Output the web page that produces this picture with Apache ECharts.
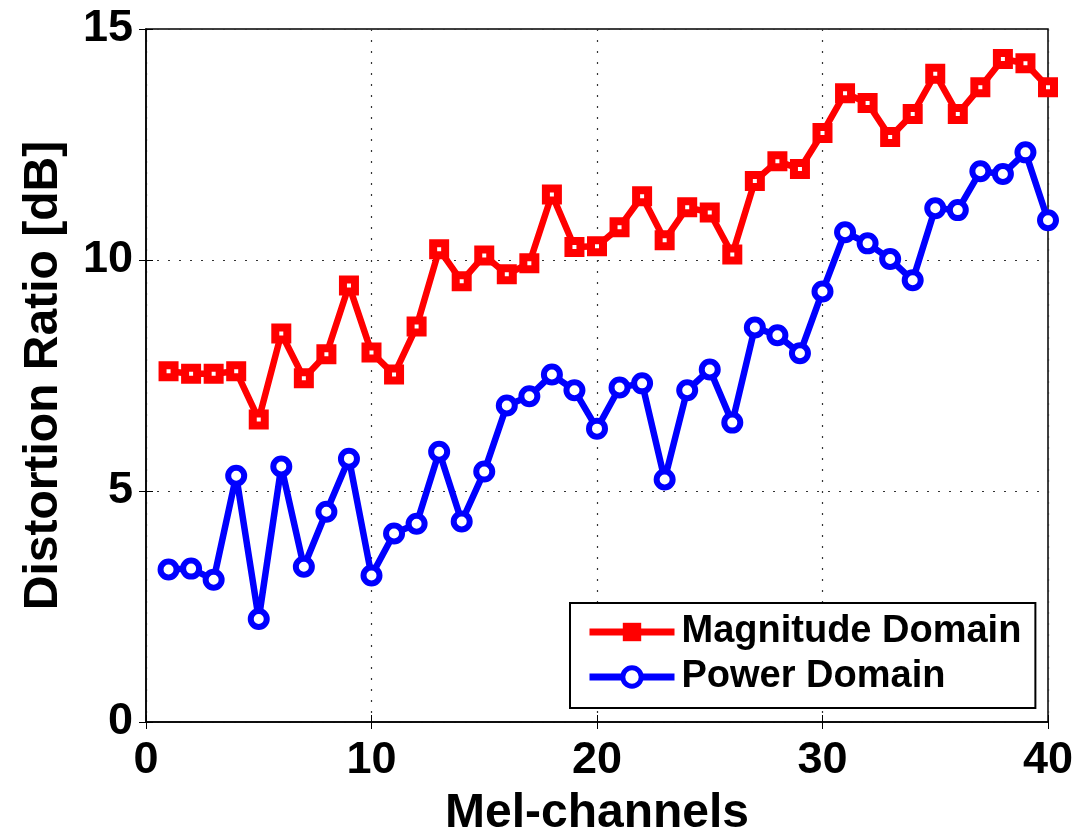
<!DOCTYPE html>
<html>
<head>
<meta charset="utf-8">
<script src="https://cdn.jsdelivr.net/npm/echarts@6/dist/echarts.min.js"></script>
<style>
  html, body { margin: 0; padding: 0; background: #fff; }
  #main { width: 1082px; height: 833px; }
</style>
</head>
<body>
<div id="main"></div>
<script>
// mel channel index 1..40
var channels = [];
for (var i = 1; i <= 40; i++) channels.push(i);

var magnitude = [7.59, 7.54, 7.54, 7.59, 6.55, 8.41, 7.44, 7.96, 9.45, 8.0,
                 7.52, 8.56, 10.23, 9.54, 10.1, 9.69, 9.93, 11.42, 10.28, 10.3,
                 10.71, 11.38, 10.43, 11.14, 11.03, 10.12, 11.71, 12.14, 11.97, 12.75,
                 13.61, 13.4, 12.66, 13.16, 14.03, 13.16, 13.74, 14.35, 14.26, 13.74];

var power = [3.3, 3.32, 3.08, 5.33, 2.23, 5.53, 3.36, 4.55, 5.7, 3.17,
             4.08, 4.29, 5.85, 4.34, 5.42, 6.85, 7.05, 7.52, 7.18, 6.35,
             7.24, 7.33, 5.25, 7.18, 7.63, 6.48, 8.54, 8.37, 7.98, 9.32,
             10.6, 10.36, 10.02, 9.56, 11.12, 11.08, 11.92, 11.86, 12.33, 10.86];

var font = 'Liberation Sans, Arial, sans-serif';
var red = '#ff0000', blue = '#0000ff';

function pairs(vals) {
    return vals.map(function (v, i) { return [channels[i], v]; });
}

var myChart = echarts.init(document.getElementById('main'));
myChart.setOption({
    animation: false,
    backgroundColor: '#fff',
    grid: {
        left: 146, right: 34, top: 29, bottom: 111,
        outerBoundsMode: 'none', containLabel: false,
        show: true, borderColor: '#000', borderWidth: 1.5
    },
    legend: {
        orient: 'vertical',
        left: 570, top: 603,
        width: 467,
        backgroundColor: '#fff',
        borderColor: '#000',
        borderWidth: 2,
        borderRadius: 0,
        padding: [10, 14, 12, 16],
        itemGap: 7,
        itemWidth: 85,
        itemHeight: 23,
        textStyle: { fontFamily: font, fontWeight: 'bold', fontSize: 38, color: '#000', padding: [0, 0, 0, 2] },
        data: [
            { name: 'Magnitude Domain', lineStyle: { width: 7, color: red }, itemStyle: { color: red, borderColor: red, borderWidth: 0 } },
            { name: 'Power Domain', lineStyle: { width: 7, color: blue }, itemStyle: { color: '#fff', borderColor: blue, borderWidth: 5 } }
        ]
    },
    xAxis: [{
        type: 'value', min: 0, max: 40, interval: 10,
        name: 'Mel-channels', nameLocation: 'middle', nameGap: 68,
        nameTextStyle: { fontFamily: font, fontWeight: 'bold', fontSize: 48, color: '#000' },
        axisLine: { show: true, lineStyle: { color: '#000', width: 1.5 } },
        axisTick: { show: true, inside: true, length: 7, lineStyle: { color: '#000' } },
        axisLabel: { fontFamily: font, fontWeight: 'bold', fontSize: 45, color: '#000', margin: 16 },
        splitLine: { show: true, lineStyle: { color: '#333', type: [2, 9], width: 1.2 } }
    }, {
        type: 'value', min: 0, max: 40, interval: 10, position: 'top',
        axisLine: { show: false },
        axisTick: { show: true, inside: true, length: 7, lineStyle: { color: '#000' } },
        axisLabel: { show: false }, splitLine: { show: false }
    }],
    yAxis: [{
        type: 'value', min: 0, max: 15, interval: 5,
        name: 'Distortion Ratio [dB]', nameLocation: 'middle', nameGap: 78,
        nameTextStyle: { fontFamily: font, fontWeight: 'bold', fontSize: 48, color: '#000' },
        axisLine: { show: true, lineStyle: { color: '#000', width: 1.5 } },
        axisTick: { show: true, inside: true, length: 7, lineStyle: { color: '#000' } },
        axisLabel: { fontFamily: font, fontWeight: 'bold', fontSize: 45, color: '#000', margin: 13 },
        splitLine: { show: true, lineStyle: { color: '#333', type: [2, 9], width: 1.2 } }
    }, {
        type: 'value', min: 0, max: 15, interval: 5, position: 'right',
        axisLine: { show: false },
        axisTick: { show: true, inside: true, length: 7, lineStyle: { color: '#000' } },
        axisLabel: { show: false }, splitLine: { show: false }
    }],
    series: [{
        name: 'Magnitude Domain',
        type: 'line',
        data: pairs(magnitude),
        symbol: 'rect',
        symbolSize: 12,
        lineStyle: { color: red, width: 6.5 },
        itemStyle: { color: '#ffffff', borderColor: red, borderWidth: 8 },
        z: 3
    }, {
        name: 'Power Domain',
        type: 'line',
        data: pairs(power),
        symbol: 'circle',
        symbolSize: 16,
        lineStyle: { color: blue, width: 6.5 },
        itemStyle: { color: '#ffffff', borderColor: blue, borderWidth: 6 },
        z: 3
    }]
});
</script>
</body>
</html>
